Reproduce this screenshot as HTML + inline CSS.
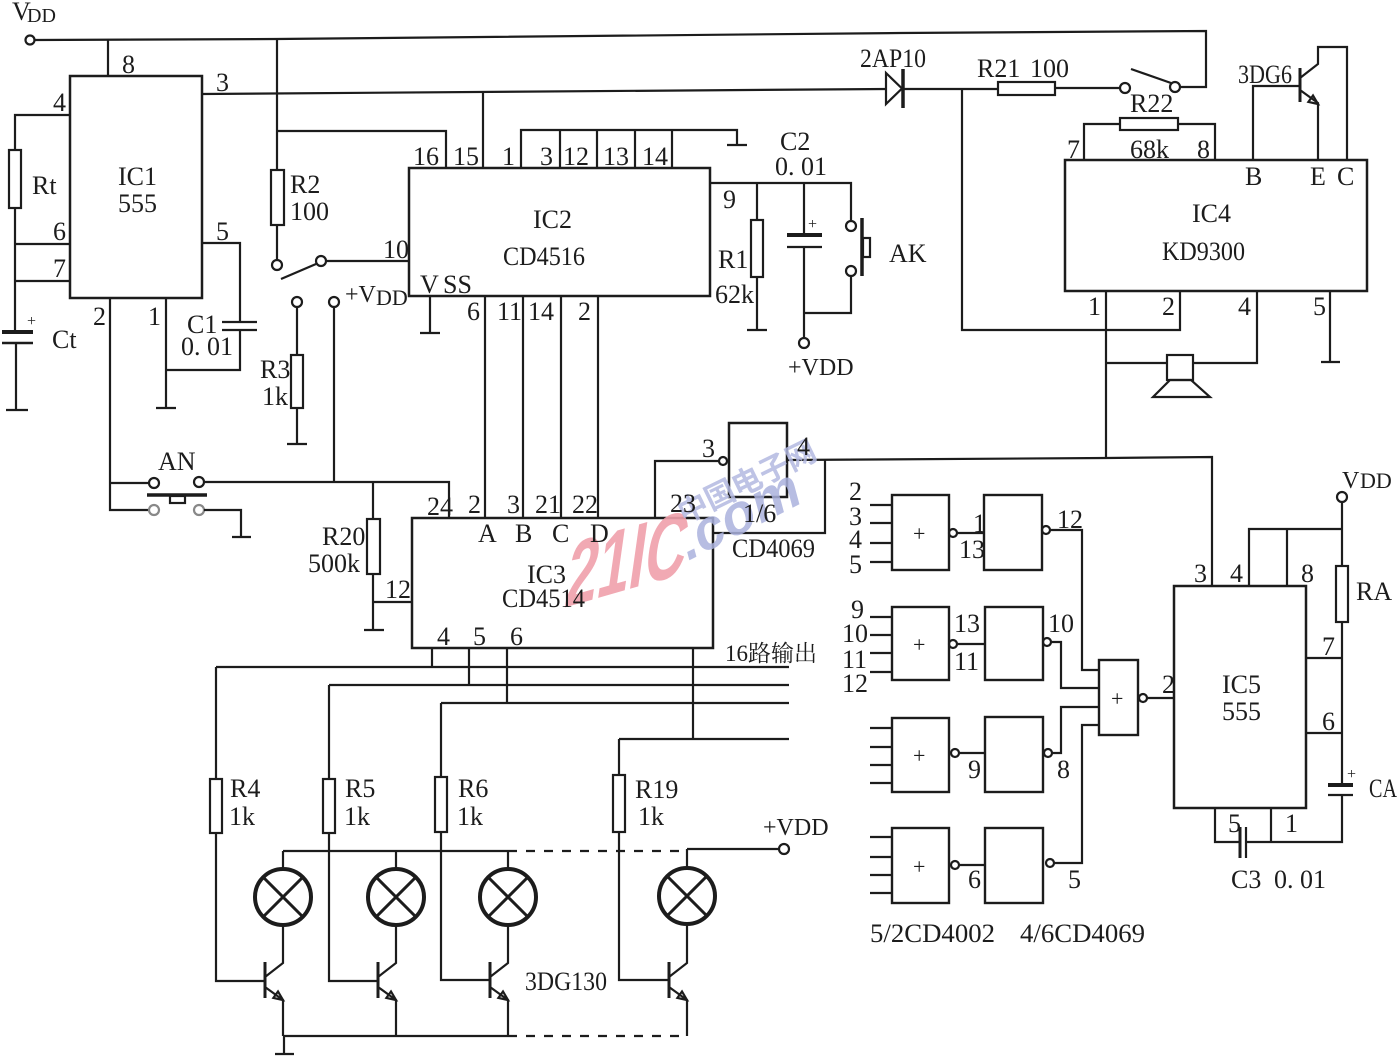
<!DOCTYPE html>
<html>
<head>
<meta charset="utf-8">
<style>
html,body{margin:0;padding:0;background:#fff;}
svg{display:block;}
.t{font-family:"Liberation Serif","Noto Serif CJK SC",serif;font-size:26px;fill:#1c1c1c;}
</style>
</head>
<body>
<svg width="1398" height="1058" viewBox="0 0 1398 1058" xmlns="http://www.w3.org/2000/svg">
<rect width="1398" height="1058" fill="#fff"/>
<g fill="none" stroke="#1c1c1c" stroke-width="2.2">
<!-- VDD main -->
<path d="M35,40 L277,39 L483,37 L900,33 L1206,31 L1206,87 L1180,87"/>
<circle cx="30" cy="40" r="4.5"/>
<!-- IC1 -->
<rect x="70" y="76" width="132" height="222" stroke-width="2.5"/>
<path d="M108,39 V76"/>
<path d="M202,94 L887,89"/>
<path d="M483,92 V168"/>
<path d="M70,115 H15 V150"/>
<rect x="9" y="150" width="12" height="58"/>
<path d="M15,208 V332"/>
<path d="M15,244 H70 M15,281 H70"/>
<path d="M2,332 H33" stroke-width="4"/>
<path d="M2,343 H33" stroke-width="2.5"/>
<path d="M16,343 V410 M6,410 H28"/>
<path d="M202,243 H240 V322"/>
<path d="M222,322 H257 M222,330 H257"/>
<path d="M240,330 V370 H166"/>
<path d="M166,298 V408 M156,408 H176"/>
<path d="M110,298 V510 H149 M110,483 H149"/>
<circle cx="154" cy="483" r="5"/>
<circle cx="199" cy="482" r="5"/>
<circle cx="154" cy="510" r="5" stroke="#888"/>
<circle cx="199" cy="510" r="5" stroke="#888"/>
<path d="M204,482 H449 V518"/>
<path d="M204,510 H241 V537 M232,537 H251"/>
<path d="M147,495 H207" stroke-width="3.5"/>
<rect x="170" y="496" width="15" height="7"/>
<!-- R2 / switch -->
<path d="M277,39 V170"/>
<rect x="271" y="170" width="13" height="55"/>
<path d="M277,225 V260"/>
<circle cx="277" cy="265" r="5"/>
<circle cx="321" cy="261" r="5"/>
<path d="M281,279 L316,264"/>
<path d="M326,261 H409"/>
<path d="M277,131 H446 V168"/>
<circle cx="297" cy="302" r="5"/>
<path d="M297,307 V355"/>
<rect x="291" y="355" width="12" height="53"/>
<path d="M297,408 V444 M287,444 H307"/>
<circle cx="334" cy="302" r="5"/>
<path d="M334,307 V482"/>
<!-- IC2 -->
<rect x="409" y="168" width="301" height="128" stroke-width="2.5"/>
<path d="M521,168 V130 H737 V145 M727,145 H747"/>
<path d="M560,130 V168 M597,130 V168 M635,130 V168 M672,130 V168"/>
<path d="M430,296 V333 M420,333 H440"/>
<path d="M485,296 V518 M523,296 V518 M561,296 V518 M598,296 V518"/>
<path d="M710,183 H851 V221"/>
<circle cx="851" cy="226" r="5"/>
<path d="M757,183 V220"/>
<rect x="751" y="220" width="12" height="57"/>
<path d="M757,277 V330 M747,330 H767"/>
<path d="M804,183 V235"/>
<path d="M787,235 H822" stroke-width="4"/>
<path d="M787,247 H822"/>
<path d="M804,247 V338"/>
<circle cx="804" cy="343" r="5"/>
<path d="M804,313 H851 V276"/>
<circle cx="851" cy="271" r="5"/>
<path d="M862,218 V276" stroke-width="3.5"/>
<rect x="863" y="238" width="7" height="19"/>
<!-- diode & R21 -->
<polygon points="886,73 886,104 902,88.5"/>
<path d="M903,69 V108" stroke-width="3.5"/>
<path d="M903,89 H998"/>
<path d="M962,89 V330 H1180 V291"/>
<rect x="998" y="82" width="57" height="13"/>
<path d="M1055,88 H1120"/>
<circle cx="1125" cy="88" r="5"/>
<circle cx="1175" cy="87" r="5"/>
<path d="M1131,69 L1171,83"/>
<!-- IC4 -->
<rect x="1065" y="160" width="302" height="131" stroke-width="2.5"/>
<path d="M1084,160 V124 H1120"/>
<rect x="1120" y="118" width="58" height="12"/>
<path d="M1178,124 H1215 V160"/>
<path d="M1253,160 V86 H1300"/>
<path d="M1300,68 V102" stroke-width="3"/>
<path d="M1300,78 L1318,64 V47 H1347 V160"/>
<path d="M1300,90 L1318,103 V160"/>
<polygon points="1318,104 1308.4,101.9 1313,95.5"/>
<path d="M1106,291 V458"/>
<path d="M1257,291 V363 H1193"/>
<path d="M1106,363 H1167"/>
<rect x="1167" y="355" width="26" height="25"/>
<polygon points="1170,380 1153,397 1210,397 1191,380"/>
<path d="M1330,291 V362 M1321,362 H1340"/>
<!-- IC3 -->
<rect x="412" y="518" width="301" height="130" stroke-width="2.5"/>
<path d="M373,602 H412"/>
<path d="M373,482 V519"/>
<rect x="367" y="519" width="13" height="55"/>
<path d="M373,574 V630 M364,630 H384"/>
<path d="M655,518 V461 H719"/>
<circle cx="723" cy="461" r="4"/>
<rect x="729" y="423" width="58" height="74" stroke-width="2.5"/>
<path d="M787,460 L1106,458 L1212,457 V586"/>
<path d="M825,460 V533 H713"/>
<!-- outputs -->
<path d="M216,667 H789 M432,648 V667"/>
<path d="M329,685 H789 M469,648 V685"/>
<path d="M441,703 H789 M507,648 V703"/>
<path d="M619,739 H789 M693,648 V739"/>
<path d="M216,667 V779"/><rect x="210" y="779" width="12" height="54"/><path d="M216,833 V981 H265"/>
<path d="M329,685 V779"/><rect x="323" y="779" width="12" height="54"/><path d="M329,833 V981 H377"/>
<path d="M441,703 V777"/><rect x="435" y="777" width="12" height="55"/><path d="M441,832 V980 H490"/>
<path d="M619,739 V775"/><rect x="613" y="775" width="12" height="57"/><path d="M619,832 V980 H668"/>
<!-- lamps -->
<g stroke-width="4">
<circle cx="283" cy="897" r="28"/><circle cx="396" cy="897" r="28"/><circle cx="508" cy="897" r="28"/><circle cx="687" cy="896" r="28"/>
</g>
<g stroke-width="3">
<path d="M263,877 L303,917 M303,877 L263,917"/>
<path d="M376,877 L416,917 M416,877 L376,917"/>
<path d="M488,877 L528,917 M528,877 L488,917"/>
<path d="M667,876 L707,916 M707,876 L667,916"/>
</g>
<path d="M283,851 V869 M396,851 V869 M508,851 V869 M687,849 V868"/>
<path d="M283,851 H508"/>
<path d="M508,851 H687" stroke-dasharray="9,9"/>
<path d="M687,849 H779"/>
<circle cx="784" cy="849" r="5"/>
<!-- transistors -->
<path d="M283,925 V963 L265,977 M265,987 L283,1000 V1036"/>
<path d="M396,925 V963 L378,977 M378,987 L396,1000 V1036"/>
<path d="M508,925 V963 L490,977 M490,987 L508,1000 V1036"/>
<path d="M687,924 V963 L669,977 M669,987 L687,1000 V1036"/>
<g stroke-width="3"><path d="M265,962 V998 M378,962 V998 M490,962 V998 M669,962 V998"/></g>
<polygon points="283,1000 273.4,997.9 278,991.5"/>
<polygon points="396,1000 386.4,997.9 391,991.5"/>
<polygon points="508,1000 498.4,997.9 503,991.5"/>
<polygon points="687,1000 677.4,997.9 682,991.5"/>
<path d="M283,1036 H508"/>
<path d="M508,1036 H687" stroke-dasharray="9,9"/>
<path d="M284,1036 V1054 M275,1054 H294"/>
<!-- gates -->
<g stroke-width="2.4">
<rect x="892" y="495" width="57" height="75"/><rect x="984" y="495" width="58" height="75"/>
<rect x="892" y="607" width="57" height="73"/><rect x="985" y="607" width="58" height="73"/>
<rect x="892" y="718" width="57" height="74"/><rect x="985" y="717" width="58" height="75"/>
<rect x="892" y="828" width="57" height="75"/><rect x="985" y="828" width="58" height="75"/>
<rect x="1099" y="660" width="39" height="75"/>
</g>
<path d="M870,505 H892 M870,523 H892 M870,543 H892 M870,562 H892"/>
<path d="M870,617 H892 M870,635 H892 M870,653 H892 M870,672 H892"/>
<path d="M870,728 H892 M870,747 H892 M870,765 H892 M870,783 H892"/>
<path d="M870,837 H892 M870,857 H892 M870,875 H892 M870,893 H892"/>
<circle cx="953" cy="533" r="4"/><path d="M957,533 H984"/>
<circle cx="1046" cy="530" r="4"/><path d="M1050,530 H1082 V670 H1099"/>
<circle cx="953" cy="644" r="4"/><path d="M957,644 H985"/>
<circle cx="1047" cy="642" r="4"/><path d="M1051,642 H1061 V688 H1099"/>
<circle cx="955" cy="753" r="4"/><path d="M959,753 H985"/>
<circle cx="1048" cy="753" r="4"/><path d="M1052,753 H1061 V707 H1099"/>
<circle cx="955" cy="865" r="4"/><path d="M959,865 H985"/>
<circle cx="1050" cy="863" r="4"/><path d="M1054,863 H1082 V725 H1099"/>
<circle cx="1143" cy="698" r="4"/><path d="M1147,698 H1174"/>
<!-- IC5 -->
<rect x="1174" y="586" width="132" height="222" stroke-width="2.5"/>
<path d="M1249,586 V529 H1342 M1287,586 V529"/>
<circle cx="1342" cy="497" r="5"/>
<path d="M1342,502 V566"/>
<rect x="1336" y="566" width="12" height="56"/>
<path d="M1342,622 V785"/>
<path d="M1306,658 H1342 M1306,733 H1342"/>
<path d="M1328,785 H1353" stroke-width="4"/>
<path d="M1328,795 H1353"/>
<path d="M1342,795 V842 H1246"/>
<path d="M1246,827 V858"/>
<path d="M1240,827 V858" stroke-width="3"/>
<path d="M1240,842 H1215 V808"/>
<path d="M1271,808 V842"/>
</g>

<!-- watermark -->
<text x="0" y="0" transform="translate(563,608) rotate(-16) skewX(-24) scale(0.74,1.08)" font-family="Liberation Sans, sans-serif" font-weight="bold" font-size="80" fill="#f0a0ab" fill-opacity="0.9">21IC</text>
<text x="0" y="0" transform="translate(686,562) rotate(-27) skewX(-12)" font-family="Liberation Sans, sans-serif" font-weight="bold" font-size="56" fill="#aab2dd" fill-opacity="0.85">.com</text>
<text x="0" y="0" transform="translate(684,524) rotate(-26)" font-family="Noto Sans CJK SC, sans-serif" font-weight="bold" font-size="30" fill="#b3b9e0" fill-opacity="0.85">中国电子网</text>

<g class="t">
<text x="12" y="20">V</text><text x="27" y="22" font-size="20">DD</text>
<text x="122" y="73">8</text><text x="216" y="91">3</text><text x="53" y="111">4</text>
<text x="32" y="194">Rt</text><text x="53" y="240">6</text><text x="53" y="277">7</text>
<text x="216" y="240">5</text><text x="93" y="325">2</text><text x="148" y="325">1</text>
<text x="187" y="333">C1</text><text x="181" y="355">0. 01</text><text x="52" y="348">Ct</text>
<text x="27" y="326" font-size="16">+</text>
<text x="118" y="185">IC1</text><text x="118" y="212">555</text>
<text x="290" y="193">R2</text><text x="290" y="220">100</text><text x="383" y="258">10</text>
<text x="260" y="378">R3</text><text x="262" y="405">1k</text>
<text x="345" y="302" font-size="24">+V</text><text x="376" y="305" font-size="22">DD</text>
<text x="413" y="165">16</text><text x="453" y="165">15</text><text x="502" y="165">1</text>
<text x="540" y="165">3</text><text x="563" y="165">12</text><text x="603" y="165">13</text><text x="642" y="165">14</text>
<text x="533" y="228">IC2</text><text x="503" y="265" textLength="82" lengthAdjust="spacingAndGlyphs">CD4516</text>
<text x="420" y="293">V</text><text x="443" y="293">SS</text>
<text x="467" y="320">6</text><text x="497" y="320">11</text><text x="528" y="320">14</text><text x="578" y="320">2</text>
<text x="723" y="208">9</text><text x="718" y="268">R1</text><text x="715" y="303">62k</text>
<text x="780" y="150">C2</text><text x="775" y="175">0. 01</text><text x="808" y="229" font-size="16">+</text>
<text x="788" y="375" font-size="24">+VDD</text>
<text x="889" y="262">AK</text>
<text x="860" y="67" textLength="66" lengthAdjust="spacingAndGlyphs">2AP10</text>
<text x="977" y="77">R21</text><text x="1030" y="77">100</text>
<text x="1130" y="112">R22</text><text x="1067" y="158">7</text><text x="1130" y="158">68k</text><text x="1197" y="158">8</text>
<text x="1238" y="83" textLength="54" lengthAdjust="spacingAndGlyphs">3DG6</text>
<text x="1245" y="185">B</text><text x="1310" y="185">E</text><text x="1337" y="185">C</text>
<text x="1192" y="222">IC4</text><text x="1162" y="260" textLength="83" lengthAdjust="spacingAndGlyphs">KD9300</text>
<text x="1088" y="315">1</text><text x="1162" y="315">2</text><text x="1238" y="315">4</text><text x="1313" y="315">5</text>
<text x="158" y="470">AN</text>
<text x="322" y="545">R20</text><text x="308" y="572">500k</text><text x="385" y="598">12</text>
<text x="427" y="515">24</text><text x="468" y="513">2</text><text x="507" y="513">3</text><text x="535" y="513">21</text><text x="572" y="513">22</text>
<text x="478" y="542">A</text><text x="515" y="542">B</text><text x="552" y="542">C</text><text x="590" y="542">D</text>
<text x="527" y="583">IC3</text><text x="502" y="607" textLength="83" lengthAdjust="spacingAndGlyphs">CD4514</text>
<text x="437" y="645">4</text><text x="473" y="645">5</text><text x="510" y="645">6</text>
<text x="670" y="512">23</text><text x="702" y="457">3</text><text x="797" y="455">4</text>
<text x="743" y="522">1/6</text><text x="732" y="557" textLength="83" lengthAdjust="spacingAndGlyphs">CD4069</text>
<text x="725" y="661" font-size="23">16路输出</text>
<text x="230" y="797">R4</text><text x="229" y="825">1k</text>
<text x="345" y="797">R5</text><text x="344" y="825">1k</text>
<text x="458" y="797">R6</text><text x="457" y="825">1k</text>
<text x="635" y="798">R19</text><text x="638" y="825">1k</text>
<text x="763" y="835" font-size="24">+VDD</text>
<text x="525" y="990" textLength="82" lengthAdjust="spacingAndGlyphs">3DG130</text>
<text x="849" y="500">2</text><text x="849" y="525">3</text><text x="849" y="548">4</text><text x="849" y="573">5</text>
<text x="851" y="618">9</text><text x="842" y="642">10</text><text x="842" y="668">11</text><text x="842" y="692">12</text>
<text x="973" y="532">1</text><text x="959" y="558">13</text><text x="1057" y="528">12</text>
<text x="954" y="632">13</text><text x="954" y="670">11</text><text x="1048" y="632">10</text>
<text x="968" y="778">9</text><text x="1057" y="778">8</text>
<text x="968" y="888">6</text><text x="1068" y="888">5</text>
<text x="913" y="541" font-size="22">+</text><text x="913" y="652" font-size="22">+</text>
<text x="913" y="763" font-size="22">+</text><text x="913" y="874" font-size="22">+</text>
<text x="1111" y="706" font-size="22">+</text>
<text x="1162" y="693">2</text>
<text x="1194" y="582">3</text><text x="1230" y="582">4</text><text x="1301" y="582">8</text>
<text x="1342" y="488" font-size="24">V</text><text x="1360" y="488" font-size="22">DD</text>
<text x="1356" y="600">RA</text><text x="1322" y="655">7</text><text x="1322" y="730">6</text>
<text x="1222" y="693">IC5</text><text x="1222" y="720">555</text>
<text x="1369" y="797" textLength="28" lengthAdjust="spacingAndGlyphs">CA</text><text x="1347" y="779" font-size="16">+</text>
<text x="1228" y="832">5</text><text x="1285" y="832">1</text>
<text x="1231" y="888">C3</text><text x="1274" y="888">0. 01</text>
<text x="870" y="942" textLength="125" lengthAdjust="spacingAndGlyphs">5/2CD4002</text><text x="1020" y="942" textLength="125" lengthAdjust="spacingAndGlyphs">4/6CD4069</text>
</g>
</svg>
</body>
</html>
